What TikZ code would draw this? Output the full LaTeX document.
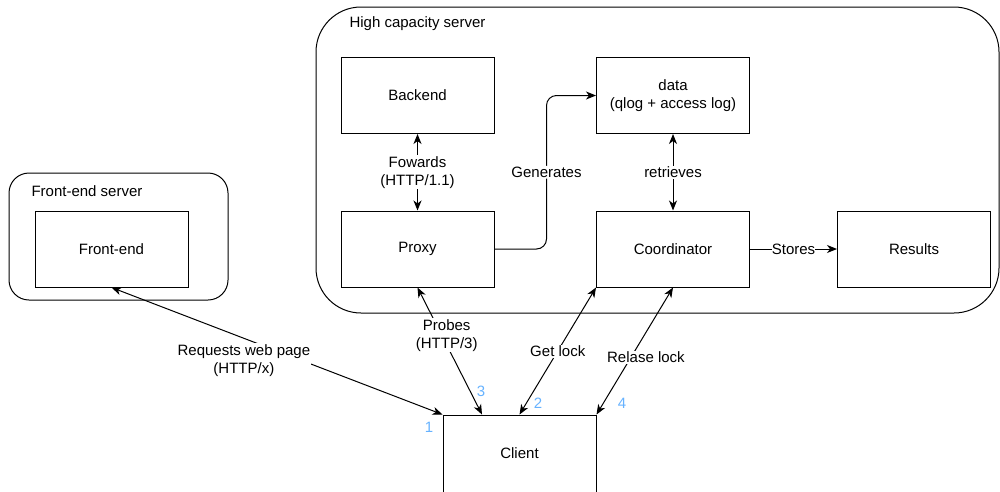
\documentclass[tikz,border=0pt]{standalone}
\usepackage{fontspec}
\setmainfont{Liberation Sans}
\usepackage{tikz}
\usetikzlibrary{arrows.meta}
\usetikzlibrary{positioning}

\definecolor{numblue}{HTML}{66B2FF}

\tikzset{
  box/.style={draw, line width=1pt, minimum width=153pt, minimum height=76pt, inner sep=0pt, align=center},
  server/.style={draw, line width=1pt},
  lbl/.style={fill=white, inner sep=1pt, align=center},
  link/.style={line width=1pt},
  num/.style={text=numblue, inner sep=0pt}
}

\begin{document}
\begin{tikzpicture}[x=1pt, y=-1pt, >={Stealth[length=10pt,width=8pt,inset=3pt]},
  every node/.style={font=\fontsize{15}{18}\selectfont}]
    \clip (0,0) rectangle (1000,491);

    % the two servers
    \draw[server, rounded corners=45pt] (316,7) rectangle (999,313);
    \node[anchor=west] (hcs) at (346,24) {High capacity server};
    \draw[server, rounded corners=20pt] (9,173) rectangle (228,300);
    \node[anchor=west] (fes) at (28,191) {Front-end server};

    % then the boxes
    \foreach \id/\x/\y/\name in {backend/417.5/95.5/Backend, data/673/95.5/{data\\(qlog + access log)},
        proxy/417.5/249/Proxy, coord/673/249/Coordinator, results/914/249/Results,
        frontend/111.5/249/Front-end}
        \node[box] (\id) at (\x,\y) {\name};
    \node[box, minimum height=80pt] (client) at (519.5,455) {};
    \node (clienttxt) at (519.5,453) {Client};

    % inside the server
    \draw[link, <->] (backend) -- node[lbl] {Fowards\\(HTTP/1.1)} (proxy);
    \draw[link, ->, rounded corners=10pt] (proxy.east) -- ++(52,0) |- node[lbl, pos=0.25] {Generates} (data.west);
    \draw[link, <->] (data) -- node[lbl] {retrieves} (coord);
    \draw[link, ->] (coord) -- node[lbl, inner sep=0pt] {Stores} (results);

    % client connections
    \draw[link, <->] (client.north west) -- node[lbl, pos=0.6, yshift=-22pt] {Requests web page\\(HTTP/x)} (frontend.south);
    \draw[link, <->] ([xshift=-37.5pt]client.north) -- node[lbl, pos=0.625, xshift=5pt] {Probes\\(HTTP/3)} (proxy.south);
    \draw[link, <->] (client.north) -- node[lbl, pos=0.5] {Get lock} (coord.south west);
    \draw[link, <->] (client.north east) -- node[lbl, pos=0.45, xshift=15pt] {Relase lock} (coord.south);

    % order of the steps
    \foreach \n/\x/\y in {1/429/427, 2/538/403, 3/481/391, 4/622/403}
        \node[num] (n\n) at (\x,\y) {\n};

\end{tikzpicture}
\end{document}
